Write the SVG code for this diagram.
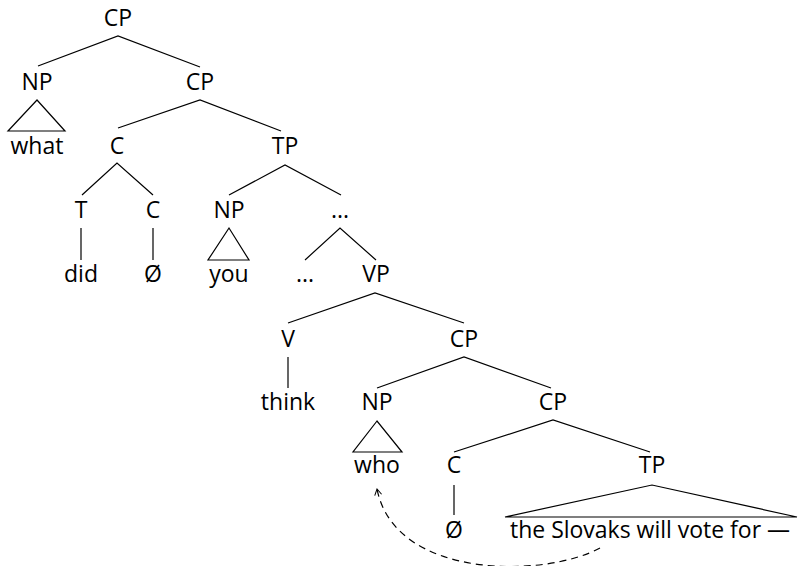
<svg xmlns="http://www.w3.org/2000/svg" width="798" height="566" viewBox="0 0 798 566">
<style>
text{font-family:"Open Sans","Liberation Sans",sans-serif;font-size:23px;fill:#000;text-anchor:middle}
.e{stroke:#000;stroke-width:1.2;fill:none}
.d{stroke:#000;stroke-width:1.2;fill:none;stroke-dasharray:7 5}
</style>
<defs>
<marker id="ah" markerWidth="10" markerHeight="10" refX="7" refY="4" orient="auto" markerUnits="userSpaceOnUse">
<path d="M1,0.5 L7,4 L1,7.5" fill="none" stroke="#000" stroke-width="1"/>
</marker>
</defs>
<rect width="798" height="566" fill="#fff"/>
<g id="connectors">
<path class="e" d="M38,66 L118,36 L200,67"/>
<path class="e" d="M37,100 L8,131 L65,131 Z"/>
<path class="e" d="M118,128 L200,100 L281,131"/>
<path class="e" d="M82,195 L117,163 L153,195"/>
<path class="e" d="M229,195 L285,165 L341,195"/>
<path class="e" d="M81,228 L81,260"/>
<path class="e" d="M153,228 L153,260"/>
<path class="e" d="M229,228 L208,260 L249,260 Z"/>
<path class="e" d="M305,260 L340,228 L376,260"/>
<path class="e" d="M288,323 L375,293 L464,323"/>
<path class="e" d="M288,357 L288,388"/>
<path class="e" d="M377,388 L464,357 L551,388"/>
<path class="e" d="M377,421 L353,452 L402,452 Z"/>
<path class="e" d="M454,452 L553,420 L650,452"/>
<path class="e" d="M454,485 L454,515"/>
<path class="e" d="M505,517 L652,485 L797,517 Z"/>
<path class="d" d="M600,548 C545,578 395,580 377,489" marker-end="url(#ah)"/>
</g>
<g id="cp1"><text x="118" y="26">CP</text></g>
<g id="np1"><text x="37" y="90">NP</text></g>
<g id="what"><text x="37" y="154">what</text></g>
<g id="cp2"><text x="200" y="90">CP</text></g>
<g id="c1"><text x="117" y="154">C</text></g>
<g id="tp1"><text x="285" y="154">TP</text></g>
<g id="t1"><text x="81" y="218">T</text></g>
<g id="c2"><text x="153" y="218">C</text></g>
<g id="np2"><text x="229" y="218">NP</text></g>
<g id="dots1"><text x="340" y="218">...</text></g>
<g id="did"><text x="81" y="282">did</text></g>
<g id="null1"><text x="153" y="282">Ø</text></g>
<g id="you"><text x="229" y="282">you</text></g>
<g id="dots2"><text x="305" y="282">...</text></g>
<g id="vp"><text x="376" y="282">VP</text></g>
<g id="v"><text x="288" y="347">V</text></g>
<g id="cp3"><text x="464" y="347">CP</text></g>
<g id="think"><text x="288" y="410">think</text></g>
<g id="np3"><text x="377" y="410">NP</text></g>
<g id="cp4"><text x="553" y="410">CP</text></g>
<g id="who"><text x="377" y="473">who</text></g>
<g id="c3"><text x="454" y="473">C</text></g>
<g id="tp2"><text x="652" y="473">TP</text></g>
<g id="null2"><text x="454" y="538">Ø</text></g>
<g id="clause"><text x="650" y="538" textLength="280" lengthAdjust="spacing">the Slovaks will vote for —</text></g>
</svg>
